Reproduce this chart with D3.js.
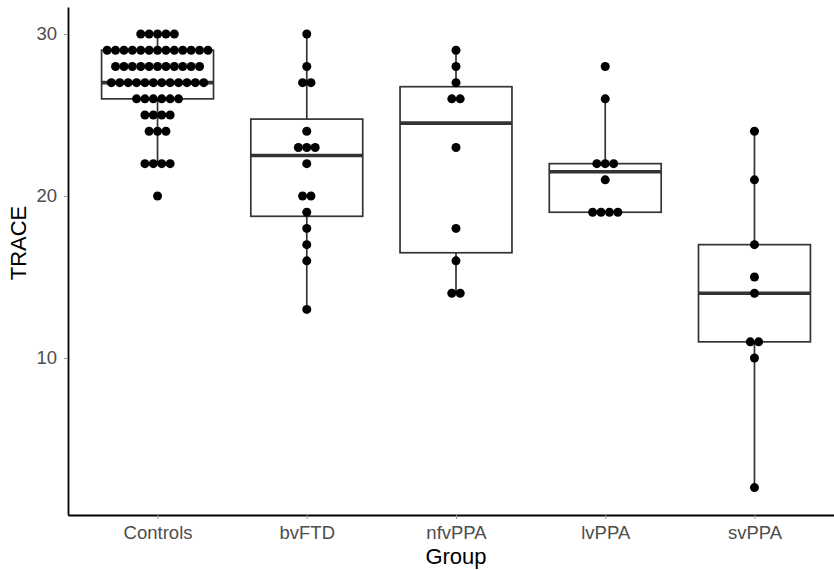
<!DOCTYPE html>
<html lang="en">
<head>
    <meta charset="UTF-8">
    <script src="https://cdn.jsdelivr.net/npm/d3@7"></script>
    <title>TRACE by Group</title>
    <style>
        html,
        body {
            margin: 0px;
            padding: 0px;
            background-color: #ffffff;
            font-family: "Liberation Sans", Arial, sans-serif;
        }
        svg { display: block; }
    </style>
</head>
<body>
    <div id='chart'></div>
    <script>

        const groups = ['Controls', 'bvFTD', 'nfvPPA', 'lvPPA', 'svPPA'];

        const controls = [
            30, 30, 30, 30, 30,
            29, 29, 29, 29, 29, 29, 29, 29, 29, 29, 29, 29, 29,
            28, 28, 28, 28, 28, 28, 28, 28, 28, 28, 28,
            27, 27, 27, 27, 27, 27, 27, 27, 27, 27, 27, 27,
            26, 26, 26, 26, 26, 26,
            25, 25, 25, 25,
            24, 24, 24,
            22, 22, 22, 22,
            20
        ];
        const bvFTD = [30, 28, 27, 27, 24, 23, 23, 23, 22, 20, 20, 19, 18, 17, 16, 13];
        const nfvPPA = [29, 28, 27, 26, 26, 23, 18, 16, 14, 14];
        const lvPPA = [28, 26, 22, 22, 22, 21, 19, 19, 19, 19];
        const svPPA = [24, 21, 17, 15, 14, 11, 11, 10, 2];

        const yTicks = [10, 20, 30];

        const series = [controls, bvFTD, nfvPPA, lvPPA, svPPA];

        const width = 834;
        const height = 570;
        const mLeft = 68, mBottom = 515, mTop = 7, mRight = 844;

        const svg = d3.select('#chart').append('svg')
            .attr('width', width)
            .attr('height', height);

        const x = d3.scalePoint()
            .domain(groups)
            .range([mLeft, mRight])
            .padding(0.6);

        const y = d3.scaleLinear()
            .domain([0.31, 31.67])
            .range([mBottom, mTop]);

        const boxW = x.step() * 0.75;
        const dotR = 4.5;
        const dotStep = 8.4;

        // boxplot stats, R type 7 quantiles
        const stats = series.map((vals, i) => {
            const s = vals.slice().sort(d3.ascending);
            const q1 = d3.quantile(s, 0.25);
            const med = d3.quantile(s, 0.5);
            const q3 = d3.quantile(s, 0.75);
            const iqr = q3 - q1;
            const lo = d3.min(s.filter(v => v >= q1 - 1.5 * iqr));
            const hi = d3.max(s.filter(v => v <= q3 + 1.5 * iqr));
            return {group: groups[i], q1, med, q3, lo, hi};
        });

        const boxes = svg.append('g')
            .selectAll('g')
            .data(stats)
            .join('g')
            .attr('transform', d => `translate(${x(d.group)},0)`);

        boxes.append('line')
            .attr('y1', d => y(d.hi)).attr('y2', d => y(d.q3))
            .attr('stroke', '#333').attr('stroke-width', 1.7);
        boxes.append('line')
            .attr('y1', d => y(d.q1)).attr('y2', d => y(d.lo))
            .attr('stroke', '#333').attr('stroke-width', 1.7);
        boxes.append('rect')
            .attr('x', -boxW / 2)
            .attr('width', boxW)
            .attr('y', d => y(d.q3))
            .attr('height', d => y(d.q1) - y(d.q3))
            .attr('fill', '#fff')
            .attr('stroke', '#333')
            .attr('stroke-width', 1.7);
        boxes.append('line')
            .attr('x1', -boxW / 2).attr('x2', boxW / 2)
            .attr('y1', d => y(d.med)).attr('y2', d => y(d.med))
            .attr('stroke', '#333').attr('stroke-width', 3.6);

        // centred dot stacks
        const dots = [];
        series.forEach((vals, i) => {
            const counts = d3.rollup(vals, v => v.length, v => v);
            counts.forEach((n, v) => {
                for (let k = 0; k < n; k++) {
                    dots.push({group: groups[i], value: v, off: (k - (n - 1) / 2) * dotStep});
                }
            });
        });

        svg.append('g')
            .selectAll('circle')
            .data(dots)
            .join('circle')
            .attr('cx', d => x(d.group) + d.off)
            .attr('cy', d => y(d.value))
            .attr('r', dotR)
            .attr('fill', '#000');

        // axes
        const xAxis = svg.append('g')
            .attr('transform', `translate(0,${mBottom})`)
            .call(d3.axisBottom(x).tickSize(4).tickPadding(7).tickSizeOuter(0));
        const yAxis = svg.append('g')
            .attr('transform', `translate(${mLeft},0)`)
            .call(d3.axisLeft(y).tickValues(yTicks).tickSize(4).tickPadding(7).tickSizeOuter(0));

        [xAxis, yAxis].forEach(a => {
            a.select('.domain').attr('stroke', '#000').attr('stroke-width', 1.8);
            a.selectAll('.tick line').attr('stroke', '#999');
            a.selectAll('.tick text')
                .attr('fill', '#4d4d4d')
                .style('font-size', '18.5px')
                .style('font-family', '"Liberation Sans", Arial, sans-serif');
        });

        svg.append('text')
            .attr('x', (mLeft + mRight) / 2)
            .attr('y', 564)
            .attr('text-anchor', 'middle')
            .style('font-size', '22px')
            .text('Group');

        svg.append('text')
            .attr('transform', 'translate(26,243) rotate(-90)')
            .attr('text-anchor', 'middle')
            .style('font-size', '22px')
            .text('TRACE');

    </script>
</body>
</html>
